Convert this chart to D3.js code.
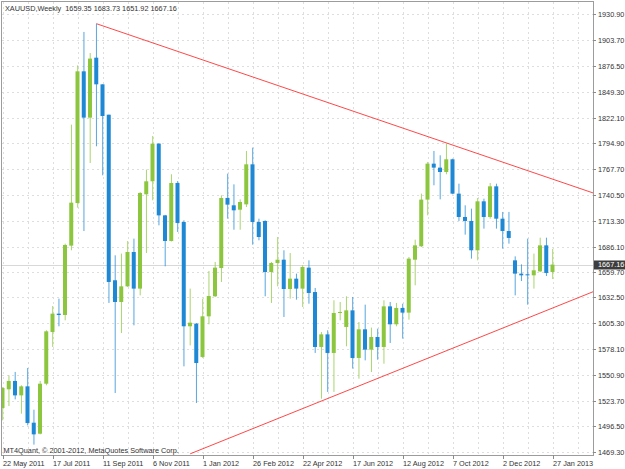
<!DOCTYPE html>
<html>
<head>
<meta charset="utf-8">
<script src="https://cdn.jsdelivr.net/npm/d3@7/dist/d3.min.js"></script>
<style>
    body { margin: 0; background: #ffffff; }
    svg text { font-family: "Liberation Sans", Arial, sans-serif; font-size: 7.3px; fill: #333333; white-space: pre; }
</style>
</head>
<body>
<svg class="chartArea" width="625" height="469"></svg>
<script>
/* Weekly XAUUSD candlestick chart with triangle trend lines */
var symbolName = 'XAUUSD,Weekly';
var copyrightText = 'MT4Quant, \u00a9 2001-2012, MetaQuotes Software Corp.';
var firstWeek = '22 May 2011';

var opens = [1516.0, 1535.7, 1544.5, 1529.3, 1538.8, 1500.5, 1488.9, 1541.6, 1596.1, 1615.4,
    1614.0, 1687.1, 1732.0, 1870.8, 1822.0, 1885.2, 1857.1, 1825.1, 1650.6, 1627.7,
    1644.2, 1680.4, 1641.8, 1741.2, 1754.9, 1794.6, 1719.0, 1692.0, 1753.1, 1712.0,
    1602.1, 1604.9, 1569.8, 1612.6, 1633.7, 1663.5, 1737.3, 1729.6, 1725.0, 1730.6,
    1772.8, 1712.0, 1713.1, 1659.3, 1668.8, 1672.3, 1641.4, 1652.3, 1641.8, 1663.9,
    1638.2, 1580.3, 1593.6, 1574.0, 1616.1, 1601.4, 1618.9, 1568.7, 1598.9, 1577.5,
    1590.8, 1580.3, 1623.1, 1604.2, 1621.4, 1616.5, 1672.3, 1686.4, 1735.6, 1773.5,
    1769.3, 1764.7, 1778.1, 1741.9, 1717.3, 1713.1, 1682.2, 1733.8, 1717.3, 1749.6,
    1715.5, 1702.5, 1671.6, 1657.6, 1656.9, 1655.8, 1660.0, 1687.4, 1659.35];
var highs = [1538.0, 1550.4, 1554.0, 1539.9, 1558.2, 1514.2, 1544.5, 1597.9, 1623.5, 1631.2,
    1689.2, 1814.6, 1877.1, 1912.3, 1890.1, 1921.0, 1857.1, 1825.1, 1676.9, 1678.7,
    1692.0, 1694.5, 1743.5, 1767.2, 1802.7, 1795.0, 1719.5, 1762.3, 1755.2, 1713.8,
    1641.8, 1605.5, 1631.2, 1660.4, 1669.9, 1740.1, 1763.0, 1751.7, 1735.9, 1786.9,
    1790.4, 1715.5, 1713.8, 1669.9, 1696.2, 1682.2, 1679.3, 1657.6, 1666.4, 1671.6,
    1642.5, 1596.1, 1597.9, 1629.5, 1627.7, 1633.7, 1633.0, 1606.6, 1624.9, 1600.7,
    1599.6, 1629.5, 1627.7, 1626.7, 1625.9, 1675.1, 1693.4, 1741.9, 1775.3, 1786.9,
    1782.3, 1794.6, 1778.8, 1752.4, 1729.6, 1726.1, 1737.3, 1736.6, 1753.1, 1752.4,
    1722.6, 1722.6, 1675.8, 1667.4, 1694.5, 1678.7, 1695.5, 1695.5, 1683.73];
var lows = [1503.0, 1518.1, 1525.1, 1510.0, 1497.7, 1477.4, 1488.2, 1539.9, 1580.3, 1602.1,
    1608.4, 1682.2, 1727.1, 1702.5, 1774.2, 1791.8, 1761.2, 1626.7, 1531.8, 1595.0,
    1643.5, 1603.1, 1634.7, 1679.3, 1734.9, 1708.5, 1665.3, 1691.5, 1701.5, 1559.9,
    1582.0, 1521.3, 1568.7, 1604.2, 1633.0, 1648.8, 1715.5, 1703.9, 1703.9, 1727.8,
    1688.1, 1692.7, 1633.7, 1626.7, 1644.2, 1611.9, 1631.2, 1630.2, 1622.4, 1625.9,
    1574.0, 1525.8, 1532.9, 1532.9, 1608.4, 1581.0, 1557.5, 1546.9, 1566.2, 1553.9,
    1566.9, 1562.7, 1584.5, 1602.1, 1589.1, 1609.1, 1645.3, 1685.7, 1719.0, 1750.7,
    1735.9, 1762.3, 1741.2, 1713.1, 1698.7, 1673.4, 1671.6, 1705.0, 1715.5, 1705.0,
    1683.9, 1689.2, 1634.7, 1649.8, 1624.9, 1641.8, 1659.3, 1655.1, 1651.92];
var closes = [1537.1, 1544.5, 1529.3, 1538.8, 1500.2, 1488.2, 1541.6, 1596.8, 1615.4, 1614.0,
    1687.8, 1732.4, 1870.8, 1822.0, 1884.2, 1857.1, 1823.7, 1648.8, 1627.7, 1644.2,
    1680.4, 1641.8, 1742.6, 1754.9, 1794.6, 1719.0, 1692.0, 1753.1, 1711.0, 1602.1,
    1605.9, 1563.4, 1612.6, 1634.0, 1663.9, 1737.3, 1730.3, 1724.3, 1733.1, 1772.8,
    1712.0, 1696.2, 1659.3, 1668.8, 1672.3, 1641.4, 1652.3, 1641.8, 1664.6, 1637.2,
    1580.3, 1593.6, 1574.0, 1616.1, 1617.2, 1618.9, 1568.7, 1598.9, 1577.5, 1590.8,
    1580.3, 1623.1, 1604.2, 1621.4, 1616.5, 1673.4, 1687.4, 1735.6, 1773.5, 1769.3,
    1764.7, 1778.1, 1741.9, 1717.3, 1713.1, 1682.2, 1733.8, 1717.3, 1749.6, 1715.5,
    1702.5, 1695.2, 1657.6, 1655.8, 1655.8, 1661.1, 1687.4, 1658.3, 1667.16];

var priceTicks = ['1930.90', '1903.70', '1876.50', '1849.30', '1822.10', '1794.90', '1767.70', '1740.50', '1713.30',
    '1686.10', '1659.70', '1632.50', '1605.30', '1578.10', '1550.90', '1523.70', '1496.50', '1469.30'];
var dateTicks = ['22 May 2011', '17 Jul 2011', '11 Sep 2011', '6 Nov 2011', '1 Jan 2012', '26 Feb 2012',
    '22 Apr 2012', '17 Jun 2012', '12 Aug 2012', '7 Oct 2012', '2 Dec 2012', '27 Jan 2013'];

// trend lines: two anchor points each (date, price), drawn as rays to the right
var trendUpper = [['4 Sep 2011', 1921.0], ['30 Sep 2012', 1795.3]];
var trendLower = [['18 Dec 2011', 1467.7], ['10 Mar 2013', 1637.3]];

var bullColor = '#8cc63e',
    bearColor = '#1e88d4',
    trendColor = '#ff3333',
    gridColor = '#dedede';

var plot = { left: 2, top: 2, right: 593, bottom: 455 };

var parseDate = d3.utcParse('%e %b %Y');
var start = parseDate(firstWeek);

var candles = opens.map(function(o, i) {
    return { date: d3.utcDay.offset(start, 7 * i), open: o, high: highs[i], low: lows[i], close: closes[i] };
});
var last = candles[candles.length - 1];

var x = d3.scaleUtc()
    .domain([parseDate(dateTicks[0]), parseDate(dateTicks[dateTicks.length - 1])])
    .range([2.7, 552.7]);

var y = d3.scaleLinear()
    .domain([+priceTicks[priceTicks.length - 1], +priceTicks[0]])
    .range([452.3, 14.3]);

var svg = d3.select('.chartArea');

svg.append('defs').append('clipPath')
    .attr('id', 'plotClip')
    .append('rect')
    .attr('x', plot.left)
    .attr('y', plot.top)
    .attr('width', plot.right - plot.left)
    .attr('height', plot.bottom - plot.top);

// grid
var grid = svg.append('g').attr('clip-path', 'url(#plotClip)');
var endDate = x.invert(plot.right);
var gridDates = d3.utcDay.range(start, endDate, 28);
grid.selectAll('line.vgrid')
    .data(gridDates)
    .enter()
    .append('line')
    .attr('class', 'vgrid')
    .attr('x1', d => Math.round(x(d)) + 0.5)
    .attr('x2', d => Math.round(x(d)) + 0.5)
    .attr('y1', plot.top)
    .attr('y2', plot.bottom)
    .attr('stroke', gridColor)
    .attr('stroke-dasharray', '2,3');
grid.selectAll('line.hgrid')
    .data(priceTicks)
    .enter()
    .append('line')
    .attr('class', 'hgrid')
    .attr('x1', plot.left)
    .attr('x2', plot.right)
    .attr('y1', d => Math.round(y(+d)) + 0.5)
    .attr('y2', d => Math.round(y(+d)) + 0.5)
    .attr('stroke', gridColor)
    .attr('stroke-dasharray', '2,3');

// last price line
grid.append('line')
    .attr('x1', plot.left)
    .attr('x2', plot.right)
    .attr('y1', Math.round(y(last.close)) + 0.5)
    .attr('y2', Math.round(y(last.close)) + 0.5)
    .attr('stroke', '#d8d8d8');

// candles
var candleArea = svg.append('g').attr('clip-path', 'url(#plotClip)');
candleArea.selectAll('line.wick')
    .data(candles)
    .enter()
    .append('line')
    .attr('class', 'wick')
    .attr('x1', d => x(d.date))
    .attr('x2', d => x(d.date))
    .attr('y1', d => y(d.high))
    .attr('y2', d => y(d.low))
    .attr('stroke', d => d.close >= d.open ? bullColor : bearColor)
    .attr('stroke-opacity', 0.75)
    .attr('stroke-width', 1);
candleArea.selectAll('rect.body')
    .data(candles)
    .enter()
    .append('rect')
    .attr('class', 'body')
    .attr('x', d => x(d.date) - 2.2)
    .attr('width', 4)
    .attr('y', d => y(Math.max(d.open, d.close)))
    .attr('height', d => Math.max(1, Math.abs(y(d.open) - y(d.close))))
    .attr('fill', d => d.close >= d.open ? bullColor : bearColor);

// trend lines
function drawTrend(pts) {
    var d0 = parseDate(pts[0][0]), d1 = parseDate(pts[1][0]);
    var slope = (pts[1][1] - pts[0][1]) / (d1 - d0);
    var priceAtEnd = pts[0][1] + slope * (endDate - d0);
    candleArea.append('line')
        .attr('x1', x(d0))
        .attr('y1', y(pts[0][1]))
        .attr('x2', x(endDate))
        .attr('y2', y(priceAtEnd))
        .attr('stroke', trendColor)
        .attr('stroke-width', 0.9);
}
drawTrend(trendUpper);
drawTrend(trendLower);

// frame
svg.append('rect')
    .attr('x', plot.left - 0.5)
    .attr('y', plot.top - 0.5)
    .attr('width', plot.right - plot.left + 1)
    .attr('height', plot.bottom - plot.top + 1)
    .attr('fill', 'none')
    .attr('stroke', '#9c9c9c');

// right price axis
var yAxis = svg.append('g');
yAxis.selectAll('line')
    .data(priceTicks)
    .enter()
    .append('line')
    .attr('x1', plot.right)
    .attr('x2', plot.right + 3)
    .attr('y1', d => Math.round(y(+d)) + 0.5)
    .attr('y2', d => Math.round(y(+d)) + 0.5)
    .attr('stroke', '#8a8a8a');
yAxis.selectAll('text')
    .data(priceTicks)
    .enter()
    .append('text')
    .attr('x', plot.right + 5)
    .attr('y', d => y(+d) + 3)
    .text(d => d);

// bottom date axis
var xAxis = svg.append('g');
xAxis.selectAll('line')
    .data(dateTicks)
    .enter()
    .append('line')
    .attr('x1', d => Math.round(x(parseDate(d))) + 0.5)
    .attr('x2', d => Math.round(x(parseDate(d))) + 0.5)
    .attr('y1', plot.bottom)
    .attr('y2', plot.bottom + 4)
    .attr('stroke', '#8a8a8a');
xAxis.selectAll('text')
    .data(dateTicks)
    .enter()
    .append('text')
    .attr('x', d => x(parseDate(d)) + 0.3)
    .attr('y', 465.5)
    .text(d => d);

// last price marker
var lastY = y(last.close);
svg.append('rect')
    .attr('x', plot.right + 1)
    .attr('y', Math.round(lastY) - 4.5)
    .attr('width', 625 - plot.right - 1)
    .attr('height', 9)
    .attr('fill', '#3d3d3d');
svg.append('text')
    .attr('x', plot.right + 5)
    .attr('y', lastY + 2)
    .style('fill', '#ffffff')
    .text(d3.format('.2f')(last.close));

// header and copyright
var fmt = d3.format('.2f');
svg.append('text')
    .attr('x', 5)
    .attr('y', 11)
    .text(symbolName + '  ' + [last.open, last.high, last.low, last.close].map(fmt).join(' '));
svg.append('text')
    .attr('x', 3.5)
    .attr('y', 452.5)
    .text(copyrightText);
</script>
</body>
</html>
